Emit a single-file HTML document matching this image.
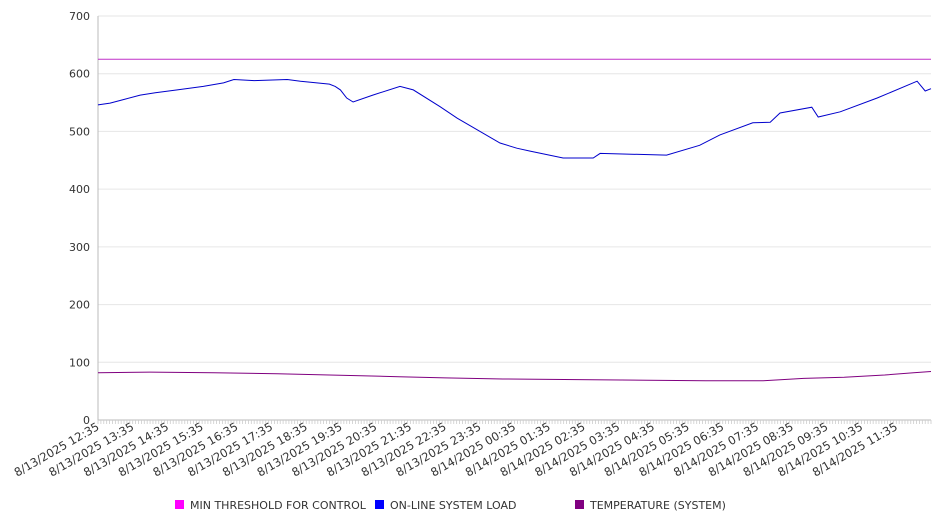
<!DOCTYPE html>
<html><head><meta charset="utf-8"><style>
body{margin:0;background:#fff;font-family:"Liberation Sans","DejaVu Sans",sans-serif}
svg text{font-family:"DejaVu Sans","Liberation Sans",sans-serif}
</style></head><body>
<svg id="chart" width="946" height="526" xmlns="http://www.w3.org/2000/svg">
<g id="grid"></g>
<g id="yaxis"></g>
<g id="xaxis"></g>
<g id="series"></g>
<g id="legend">
<rect x="175" y="500" width="9" height="9" fill="#ff00ff"/>
<text x="190" y="509" font-size="11" fill="#333">MIN THRESHOLD FOR CONTROL</text>
<rect x="375" y="500" width="9" height="9" fill="#0000ff"/>
<text x="390" y="509" font-size="11" fill="#333">ON-LINE SYSTEM LOAD</text>
<rect x="575" y="500" width="9" height="9" fill="#800080"/>
<text x="590" y="509" font-size="11" fill="#333">TEMPERATURE (SYSTEM)</text>
</g>
</svg>
<script>
const yTicks=[0,100,200,300,400,500,600,700];
const xTickLabels=["8/13/2025 12:35","8/13/2025 13:35","8/13/2025 14:35","8/13/2025 15:35","8/13/2025 16:35","8/13/2025 17:35","8/13/2025 18:35","8/13/2025 19:35","8/13/2025 20:35","8/13/2025 21:35","8/13/2025 22:35","8/13/2025 23:35","8/14/2025 00:35","8/14/2025 01:35","8/14/2025 02:35","8/14/2025 03:35","8/14/2025 04:35","8/14/2025 05:35","8/14/2025 06:35","8/14/2025 07:35","8/14/2025 08:35","8/14/2025 09:35","8/14/2025 10:35","8/14/2025 11:35"];
const thresholdValue=625;
const loadMinutes=[0,21,47,73,99,137,182,217,235,270,327,350,400,410,419,430,441,475,522,545,591,621,695,724,747,804,856,868,983,1040,1075,1132,1162,1179,1234,1245,1283,1347,1416,1430,1440];
const loadValues=[546,549,556,563,567,572,578,584,590,588,590,587,582,578,572,558,551,563,578,572,543,523,480,471,466,454,454,462,459,476,494,515,516,532,542,525,534,558,587,570,574];
const tempMinutes=[0,90,200,310,400,520,600,700,830,950,1050,1150,1220,1290,1360,1410,1440];
const tempValues=[82,83,82,80,78,75,73,71,70,69,68,68,72,74,78,82,84];

const NS="http://www.w3.org/2000/svg";
const X0=98,X1=931,Y0=420,Y1=16,TMAX=1440,VMAX=700;
const xs=m=>X0+(m/TMAX)*(X1-X0);
const ys=v=>Y0-(v/VMAX)*(Y0-Y1);
function mk(t,a,p){const e=document.createElementNS(NS,t);for(const k in a)e.setAttribute(k,a[k]);p.appendChild(e);return e;}
const grid=document.getElementById('grid'),ya=document.getElementById('yaxis'),xa=document.getElementById('xaxis'),ser=document.getElementById('series');
yTicks.forEach(v=>{
 const l=mk('line',{x1:X0,x2:X1,y1:ys(v),y2:ys(v),stroke:'#e6e6e6','stroke-width':1},grid);
 
 
 const t=mk('text',{x:90,y:ys(v)+4,'text-anchor':'end','font-size':11,fill:'#333'},ya);
 
 
 t.textContent=v;
});
const ax=mk('line',{x1:X0,x2:X0,y1:Y1,y2:Y0,stroke:'#bbb'},ya);


const bx=mk('line',{x1:X0,x2:X1,y1:Y0,y2:Y0,stroke:'#bbb'},xa);


for(let m=0;m<=TMAX;m+=5){
 const tk=mk('line',{x1:xs(m),x2:xs(m),y1:Y0,y2:Y0+4,stroke:'#ccc','stroke-width':0.8},xa);
 
 
}
xTickLabels.forEach((s,i)=>{
 const x=xs(i*60)+2,y=Y0+9;
 const t=mk('text',{x:x,y:y,'text-anchor':'end','font-size':11.5,fill:'#333',transform:`rotate(-30 ${x} ${y})`},xa);
 
 
 t.textContent=s;
});
const th=mk('line',{x1:X0,x2:X1,y1:ys(thresholdValue),y2:ys(thresholdValue),stroke:'#c030c8','stroke-width':1},ser);


function path(ms,vs,c,name){
 const d=ms.map((m,i)=>(i?'L':'M')+xs(m).toFixed(1)+' '+ys(vs[i]).toFixed(1)).join(' ');
 const p=mk('path',{d:d,fill:'none',stroke:c,'stroke-width':1},ser);
 
 
}
path(loadMinutes,loadValues,'#0000cc','load-line');
path(tempMinutes,tempValues,'#800080','temperature-line');
</script>
</body></html>
